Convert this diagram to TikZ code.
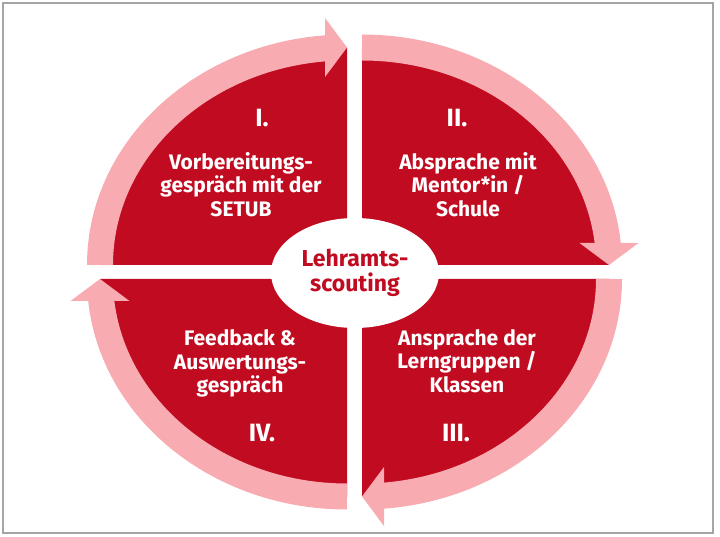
\documentclass[tikz,border=0pt]{standalone}
\usepackage{fontspec}
\setmainfont{Fira Sans}
\usetikzlibrary{shapes.geometric}
\definecolor{quadred}{RGB}{193,11,32}
\definecolor{bandpink}{RGB}{248,172,178}
\definecolor{framegray}{RGB}{166,166,166}
\tikzset{
  quad/.style={fill=quadred},
  band/.style={draw=bandpink, line width=26pt},
  bandhead/.style={fill=bandpink},
  phase/.style={text=white, align=center, font=\bfseries\fontsize{21}{23.5}\selectfont},
  numeral/.style={text=white, anchor=base, font=\bfseries\fontsize{25}{28}\selectfont},
}
\begin{document}
\begin{tikzpicture}[x=1pt,y=1pt]
\useasboundingbox (0,0) rectangle (720,536);
% Frame
\draw[framegray, line width=1.5pt] (3,3) rectangle (713,533);

% Corners of the quadrants
\coordinate (cI) at (347,271);
\coordinate (cII) at (362,271);
\coordinate (cIII) at (362,257);
\coordinate (cIV) at (347,257);

% Quadrants
\fill[quad] (cI) -- ++(-247,0) arc[start angle=180,end angle=90,x radius=247,y radius=217.5] -- cycle;
\fill[quad] (cII) -- ++(0,217.5) arc[start angle=90,end angle=0,x radius=247,y radius=217.5] -- cycle;
\fill[quad] (cIII) -- ++(247,0) arc[start angle=0,end angle=-90,x radius=247,y radius=217.5] -- cycle;
\fill[quad] (cIV) -- ++(0,-217.5) arc[start angle=270,end angle=180,x radius=247,y radius=217.5] -- cycle;

% Cycle arrows
\draw[band] (cI) ++(180:247 and 217.5) arc[start angle=180,end angle=94,x radius=247,y radius=217.5];
\fill[bandhead] (cI) ++(-22,247) -- ++(22,-29.5) -- ++(-22,-29.5) -- cycle;
\draw[band] (cII) ++(90:247 and 217.5) arc[start angle=90,end angle=5,x radius=247,y radius=217.5];
\fill[bandhead] (cII) ++(217.5,22) -- ++(29.5,-22) -- ++(29.5,22) -- cycle;
\draw[band] (cIII) ++(0:247 and 217.5) arc[start angle=0,end angle=-86,x radius=247,y radius=217.5];
\fill[bandhead] (cIII) ++(22,-188) -- ++(-22,-29.5) -- ++(22,-29.5) -- cycle;
\draw[band] (cIV) ++(270:247 and 217.5) arc[start angle=270,end angle=185,x radius=247,y radius=217.5];
\fill[bandhead] (cIV) ++(-276.5,-22) -- ++(29.5,22) -- ++(29.5,-22) -- cycle;

% Centre
\node[ellipse, fill=white, inner sep=0pt, minimum width=168, minimum height=110, align=center,
  text=quadred, font=\bfseries\fontsize{23}{25}\selectfont] (lehr) at (355,263) {Lehramts-\\scouting};

% Phases
\node[numeral] (nI) at (262,409) {I.};
\node[phase] (pI) at (241,351.5) {Vorbereitungs-\\gespräch mit der\\SETUB};
\node[numeral] (nII) at (457,409) {II.};
\node[phase] (pII) at (468,351.5) {Absprache mit\\Mentor*in /\\Schule};
\node[phase] (pIII) at (467,175) {Ansprache der\\Lerngruppen /\\Klassen};
\node[numeral] (nIII) at (456,95) {III.};
\node[phase] (pIV) at (240,172.5) {Feedback \&\\Auswertungs-\\gespräch};
\node[numeral] (nIV) at (262,95) {IV.};
\end{tikzpicture}
\end{document}
